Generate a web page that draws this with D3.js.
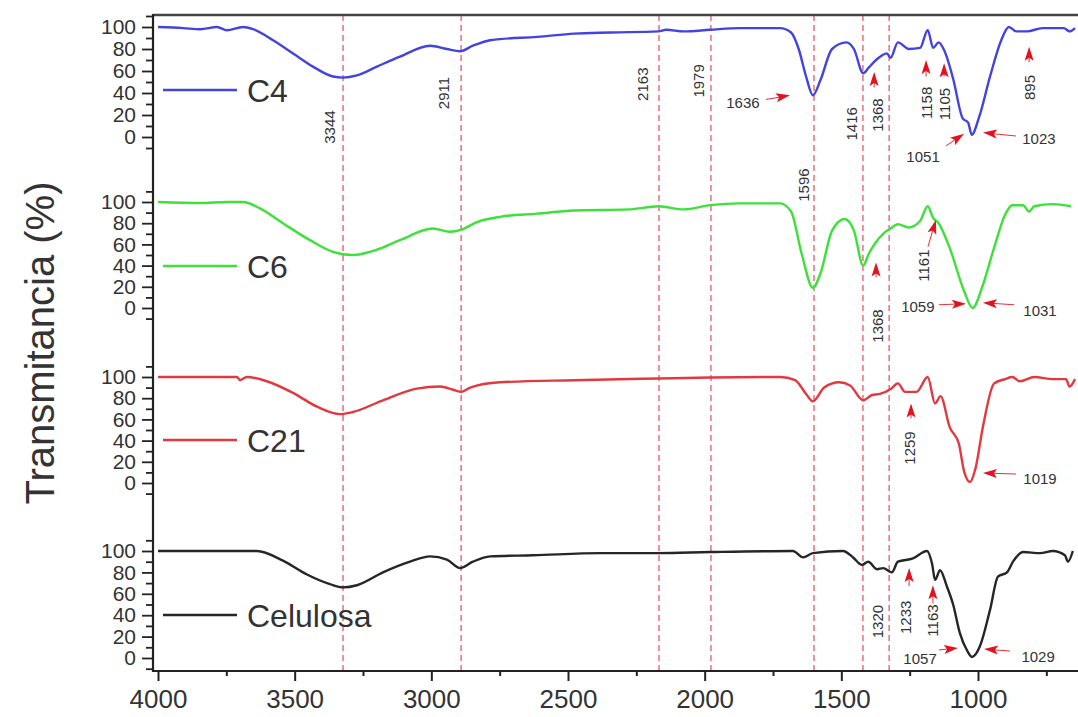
<!DOCTYPE html>
<html><head><meta charset="utf-8">
<script src="https://cdn.jsdelivr.net/npm/d3@7"></script>
<style>
html,body{margin:0;padding:0;background:#fff;}
svg{display:block;font-family:"Liberation Sans",Arial,sans-serif;}
</style></head>
<body><svg id="c" width="1078" height="717"></svg>
<script>
// ---------- data ----------
const xTicks = [4000, 3500, 3000, 2500, 2000, 1500, 1000];
const xMinorTicks = [3750, 3250, 2750, 2250, 1750, 1250, 750];
const yTicks = [0, 20, 40, 60, 80, 100];
const yMinorTicks = [-10, 10, 30, 50, 70, 90, 110];
const seriesNames = ["C4", "C6", "C21", "Celulosa"];
const seriesColors = ["#4343e0", "#3ee03a", "#e2383f", "#262626"];

const c4W = [4000,3908,3846,3784,3748,3689,3652,3579,3506,3433,3360,3323,3272,3199,3115,3005,2943,2895,2848,2785,2749,2613,2478,2343,2169,2141,2076,1980,1871,1724,1684,1656,1629,1604,1576,1534,1481,1454,1420,1400,1373,1333,1320,1293,1253,1212,1184,1164,1144,1124,1091,1056,1036,1023,996,956,915,887,860,820,765,686,665,645];
const c4T = [100,99,98,100,97,100,98,88,76,64,55,54,56,64,73,83,80,78,83,88,89,91,94,95,96,97.5,96,97.5,99,99,95,80,55,38,52,80,86,80,58,63,70,76,72,86,80,81,97,81,86,79,53,17,13,2,18,55,88,100,96,96,99,99,96,99];

const c6W = [4000,3846,3748,3689,3627,3543,3444,3360,3287,3199,3115,2994,2932,2889,2833,2749,2613,2478,2277,2169,2076,1980,1871,1724,1684,1644,1604,1576,1534,1488,1454,1420,1400,1347,1320,1293,1253,1212,1184,1164,1144,1104,1051,1020,983,941,901,875,835,813,794,726,660];
const c6T = [100,99,100,100,94,80,64,53,50,55,64,75,72,74,81,86,89,92,93,96,93,97,98.7,98.7,91,50,19,33,73,84,73,40,51,70,75,79,76,82,96,85,80,57,16,0,21,57,88,97,97,91,96,98,96];

const c21W = [4000,3711,3700,3675,3602,3506,3418,3334,3287,3177,3053,2968,2921,2889,2858,2749,2478,2169,1980,1724,1669,1629,1604,1563,1508,1468,1420,1388,1359,1318,1293,1267,1225,1184,1157,1137,1104,1070,1050,1029,1009,982,941,901,875,847,794,726,678,665,645];
const c21T = [100,100,97,100,96,85,72,65,67,78,89,91,88,86,90,95,97,98.6,99.5,100,97,84,77,90,95,92,78,83,84,89,94,86,86,100,75,82,53,37,10,1,14,53,94,98,100,96,100,98,98,91,98];

const celW = [4000,3638,3543,3455,3371,3323,3272,3177,3078,3005,2943,2895,2848,2785,2628,2383,2171,1980,1677,1640,1604,1494,1457,1424,1402,1369,1347,1315,1293,1238,1187,1168,1157,1139,1114,1091,1066,1040,1022,993,956,927,894,872,835,773,726,682,671,653];
const celT = [100,100,91,78,69,66,68,80,90,95,92,84,90,95,96,98,98,99,100,94,98,100,94,87,90,83,84,80,90,93,100,88,73,82,67,50,23,7,1,11,45,76,80,90,99,98,100,96,90,100];

const markerLines = [3323, 2891, 2167, 1977, 1600, 1421, 1325];

// annotations: panel, label, wavenumber, value, rotated
const annoPanel = [0,0,0,0,0,0,0,0,0,0,0,0, 1,1,1,1,1, 2,2, 3,3,3,3,3];
const annoText  = ["3344","2911","2163","1979","1636","1416","1368","1158","1105","1051","1023","895",
                   "1596","1368","1161","1059","1031", "1259","1019", "1320","1233","1163","1057","1029"];
const annoW     = [3371,2957,2229,2021,1860,1461,1366,1190,1124,1201,777,813,
                   1637,1366,1198,1220,773, 1252,773, 1369,1267,1168,1212,780];
const annoV     = [9,40,48,51,31,12,20,31,30,-18,-1,45,
                   116,-17,40,1,-2, 33,4, 34,38,35,0,1];
const annoRot   = [1,1,1,1,0,1,1,1,1,0,0,1, 1,1,1,0,0, 1,0, 1,1,1,0,0];

// arrows: panel, from (w,v) to (w,v)
const arrowPanel = [0,0,0,0,0,0,0, 1,1,1,1, 2,2, 3,3,3,3];
const arrowW1 = [1776,1380,1190,1124,1117,861,813, 1373,1183,1143,868, 1245,861, 1252,1165,1143,883];
const arrowV1 = [34,45,55,55,-8,1,68, 29,58,3,3, 61,8.5, 67,51,7.5,6.5];
const arrowW2 = [1688,1380,1190,1124,1051,982,813, 1373,1154,1044,982, 1245,982, 1252,1165,1073,978];
const arrowV2 = [38,59,70,67,3,4,82, 43,83,4,5, 75,9.4, 84,68,9.3,8.4];

// ---------- layout ----------
const panelTop = [27, 202, 377, 551];
const panelBottom = [137, 308, 483, 658];
const legendY = [90, 266, 440, 615];
const axisLeft = 153, axisTop = 15, axisBottom = 671, W = 1078;

const svg = d3.select("#c");
const x = d3.scaleLinear().domain([4000, 1000]).range([158, 978]);
const yS = panelTop.map((t, i) => d3.scaleLinear().domain([0, 100]).range([panelBottom[i], t]));
const ink = "#333";

// dashed marker lines
svg.append("g").selectAll("line").data(markerLines).join("line")
  .attr("x1", d => x(d)).attr("x2", d => x(d))
  .attr("y1", axisTop).attr("y2", axisBottom)
  .attr("stroke", "#e8485a").attr("stroke-width", 1.4).attr("stroke-dasharray", "6,4").attr("opacity", 0.85);

// series
const data = [
  c4W.map((w, i) => [w, c4T[i]]),
  c6W.map((w, i) => [w, c6T[i]]),
  c21W.map((w, i) => [w, c21T[i]]),
  celW.map((w, i) => [w, celT[i]])
];
data.forEach((pts, i) => {
  const line = d3.line().x(d => x(d[0])).y(d => yS[i](d[1])).curve(d3.curveMonotoneX);
  svg.append("path").attr("d", line(pts)).attr("fill", "none")
    .attr("stroke", seriesColors[i]).attr("stroke-width", 2.4).attr("stroke-linejoin", "round");
});

// frame: top border, left spine, bottom axis
svg.append("line").attr("x1", axisLeft).attr("x2", W).attr("y1", axisTop).attr("y2", axisTop)
  .attr("stroke", "#444").attr("stroke-width", 2.5);
svg.append("line").attr("x1", axisLeft).attr("x2", axisLeft).attr("y1", axisTop - 1).attr("y2", axisBottom + 1)
  .attr("stroke", "#222").attr("stroke-width", 2.2);

// x axis
svg.append("g").attr("transform", `translate(0,${axisBottom})`)
  .call(d3.axisBottom(x).tickValues(xTicks).tickSize(10).tickPadding(2).tickSizeOuter(0).tickFormat(d3.format("d")))
  .call(g => g.select(".domain").attr("d", `M${axisLeft},0H${W}`).attr("stroke", "#222").attr("stroke-width", 2.2))
  .call(g => g.selectAll(".tick line").attr("stroke", "#222").attr("stroke-width", 2))
  .call(g => g.selectAll(".tick text").attr("font-size", 26).attr("fill", ink).attr("dy", "0.97em")
    .attr("font-family", '"Liberation Sans",Arial,sans-serif'));
svg.append("g").attr("transform", `translate(0,${axisBottom})`)
  .call(d3.axisBottom(x).tickValues(xMinorTicks).tickSize(5).tickFormat(""))
  .call(g => g.select(".domain").remove())
  .call(g => g.selectAll(".tick line").attr("stroke", "#222").attr("stroke-width", 2));

// y axes per panel
yS.forEach((ys, i) => {
  svg.append("g").attr("transform", `translate(${axisLeft},0)`)
    .call(d3.axisLeft(ys).tickValues(yTicks).tickSize(11).tickPadding(6).tickFormat(d3.format("d")))
    .call(g => g.select(".domain").remove())
    .call(g => g.selectAll(".tick line").attr("stroke", "#222").attr("stroke-width", 1.8))
    .call(g => g.selectAll(".tick text").attr("font-size", 21).attr("fill", ink)
      .attr("font-family", '"Liberation Sans",Arial,sans-serif'));
  svg.append("g").attr("transform", `translate(${axisLeft},0)`)
    .call(d3.axisLeft(ys).tickValues(yMinorTicks).tickSize(7).tickFormat(""))
    .call(g => g.select(".domain").remove())
    .call(g => g.selectAll(".tick line").attr("stroke", "#222").attr("stroke-width", 1.8));
});

// legends
seriesNames.forEach((n, i) => {
  svg.append("line").attr("x1", 163).attr("x2", 237).attr("y1", legendY[i]).attr("y2", legendY[i])
    .attr("stroke", seriesColors[i]).attr("stroke-width", 2.5);
  svg.append("text").attr("x", 247).attr("y", legendY[i] + 11.5).attr("font-size", 32).attr("fill", ink).text(n);
});

// y title
svg.append("text").attr("transform", "translate(54,343) rotate(-90)").attr("text-anchor", "middle")
  .attr("font-size", 40).attr("fill", ink).text("Transmitancia (%)");

// annotations
annoText.forEach((t, i) => {
  const px = x(annoW[i]), py = yS[annoPanel[i]](annoV[i]);
  const tx = svg.append("text").attr("font-size", 15).attr("fill", ink)
    .attr("text-anchor", "middle").attr("dominant-baseline", "central").text(t);
  if (annoRot[i]) tx.attr("transform", `translate(${px},${py}) rotate(-90)`);
  else tx.attr("x", px).attr("y", py);
});

// arrows
arrowPanel.forEach((p, i) => {
  const x1 = x(arrowW1[i]), y1 = yS[p](arrowV1[i]);
  const x2 = x(arrowW2[i]), y2 = yS[p](arrowV2[i]);
  const ang = Math.atan2(y2 - y1, x2 - x1);
  const len = Math.hypot(x2 - x1, y2 - y1);
  const g = svg.append("g").attr("transform", `translate(${x2},${y2}) rotate(${ang * 180 / Math.PI})`);
  g.append("line").attr("x1", -len).attr("x2", -8).attr("y1", 0).attr("y2", 0)
    .attr("stroke", "#e8303a").attr("stroke-width", 1);
  g.append("path").attr("d", "M0,0 L-14,-4.5 L-11,0 L-14,4.5 Z").attr("fill", "#e3121e");
});
</script></body></html>
